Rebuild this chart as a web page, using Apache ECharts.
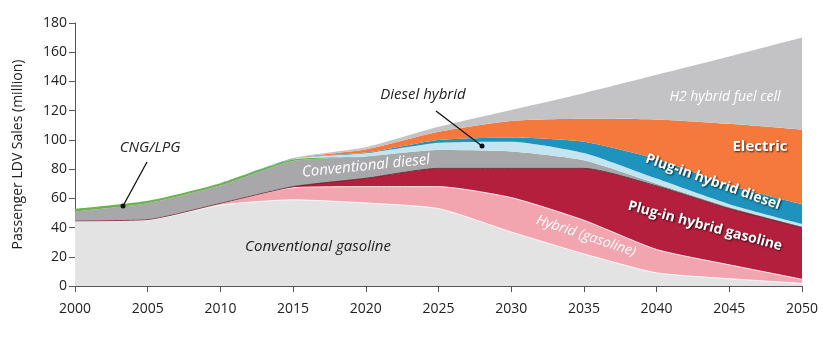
<!DOCTYPE html>
<html>
<head>
<meta charset="utf-8">
<script src="https://cdn.jsdelivr.net/npm/echarts@6/dist/echarts.min.js"></script>
<style>
  html, body { margin: 0; padding: 0; background: #fff; }
  #main { width: 831px; height: 338px; }
</style>
</head>
<body>
<div id="main"></div>
<script>
// years on the x axis
const years = ['2000', '2005', '2010', '2015', '2020', '2025', '2030', '2035', '2040', '2045', '2050'];

// sales per technology, million vehicles (stacked, bottom to top)
const convGasoline = [44.5, 45.2, 55.4, 59, 56.8, 53, 37, 22, 9, 5, 1.8];
const hybridGasoline = [0.1, 0.3, 1.1, 8.3, 11.2, 15, 23.5, 23, 16, 9.5, 2.8];
const phevGasoline = [0, 0, 0.1, 0.7, 5.7, 12.5, 20, 35.5, 43.5, 38.5, 35.4];
const convDiesel = [6.4, 11.1, 12.1, 17.6, 14.8, 12.5, 11.5, 5.5, 1.5, 1, 0.8];
const cngLpg = [1.8, 1.7, 1.7, 1.1, 0.2, 0, 0, 0, 0, 0, 0];
const dieselHybrid = [0, 0, 0, 0.3, 2.1, 5, 6.8, 5, 3.5, 2, 1.7];
const phevDiesel = [0, 0, 0, 0.2, 0.5, 2, 2.9, 7.8, 13.5, 13, 13.5];
const electric = [0, 0, 0, 0.2, 2.2, 5.6, 11.3, 15.7, 27, 42, 51];
const h2FuelCell = [0, 0, 0, 0.2, 1.5, 3.4, 7.5, 17.5, 30.5, 46, 63];

const yTicks = [0, 20, 40, 60, 80, 100, 120, 140, 160, 180];

const font = '"Open Sans", "Noto Sans", sans-serif';

// one stacked area layer
function layer(name, values, color, line) {
  return {
    name: name,
    type: 'line',
    stack: 'total',
    smooth: 0.2,
    symbol: 'none',
    data: values,
    areaStyle: { color: color, opacity: 1 },
    lineStyle: line || { width: 0 },
    emphasis: { disabled: true }
  };
}

const whiteEdge = { color: 'rgba(255,255,255,0.85)', width: 1 };

const myChart = echarts.init(document.getElementById('main'), null, { renderer: 'canvas' });

// white bold labels with dark shadow
function boldLabel(text, x, y, rot, size) {
  return {
    type: 'text', x: x, y: y, rotation: rot, z: 100,
    style: {
      text: text, fill: '#fff', font: 'bold ' + (size || 14) + 'px ' + font,
      align: 'center', verticalAlign: 'middle',
      textShadowColor: 'rgba(0,0,0,0.75)', textShadowBlur: 2, textShadowOffsetX: 1, textShadowOffsetY: 1
    }
  };
}

function italicLabel(text, x, y, rot, color, size) {
  return {
    type: 'text', x: x, y: y, rotation: rot, z: 100,
    style: {
      text: text, fill: color, font: 'italic ' + (size || 14) + 'px ' + font,
      align: 'center', verticalAlign: 'middle'
    }
  };
}

// pointer line ending with a dot
function pointer(x1, y1, x2, y2) {
  return [
    { type: 'line', z: 100, shape: { x1: x1, y1: y1, x2: x2, y2: y2 }, style: { stroke: '#111', lineWidth: 1.3 } },
    { type: 'circle', z: 100, shape: { cx: x2, cy: y2, r: 2.5 }, style: { fill: '#111' } }
  ];
}

const option = {
  animation: false,
  grid: { left: 75, right: 29, top: 23, bottom: 52 },
  xAxis: {
    type: 'category',
    data: years,
    boundaryGap: false,
    axisLine: { lineStyle: { color: '#555', width: 1 } },
    axisTick: { show: true, length: 6, lineStyle: { color: '#555' } },
    axisLabel: { color: '#222', fontSize: 14, fontFamily: font, margin: 16 },
    splitLine: { show: false }
  },
  yAxis: {
    type: 'value',
    min: yTicks[0], max: yTicks[yTicks.length - 1], interval: 20,
    name: 'Passenger LDV Sales (million)',
    nameLocation: 'middle',
    nameGap: 50,
    nameTextStyle: { color: '#222', fontSize: 14, fontFamily: font },
    axisLine: { show: true, lineStyle: { color: '#555', width: 1 } },
    axisTick: { show: true, length: 6, lineStyle: { color: '#555' } },
    axisLabel: { color: '#222', fontSize: 14, fontFamily: font, margin: 8 },
    splitLine: { show: false }
  },
  series: [
    layer('Conventional gasoline', convGasoline, '#e3e3e4', whiteEdge),
    layer('Hybrid (gasoline)', hybridGasoline, '#f2a5ae', whiteEdge),
    layer('Plug-in hybrid gasoline', phevGasoline, '#b41f3e', { color: '#5a0f1c', width: 0.8 }),
    layer('Conventional diesel', convDiesel, '#a8a8aa'),
    layer('CNG/LPG', cngLpg, '#6cb24e'),
    layer('Diesel hybrid', dieselHybrid, '#c4e5f0'),
    layer('Plug-in hybrid diesel', phevDiesel, '#1e93bd'),
    layer('Electric', electric, '#f5793d'),
    layer('H2 hybrid fuel cell', h2FuelCell, '#c3c3c5')
  ],
  graphic: [
    italicLabel('Conventional gasoline', 318, 247, 0, '#222', 15),
    italicLabel('Conventional diesel', 366, 166, 0.1, '#fff', 15),
    italicLabel('Hybrid (gasoline)', 586, 236, -0.32, '#fff', 14),
    italicLabel('H2 hybrid fuel cell', 725, 97, 0, '#fff', 14),
    italicLabel('Diesel hybrid', 423, 95, 0, '#222', 15),
    italicLabel('CNG/LPG', 150, 148, 0, '#222', 15),
    boldLabel('Electric', 760, 147, 0, 15),
    boldLabel('Plug-in hybrid diesel', 713, 182, -0.34, 14),
    boldLabel('Plug-in hybrid gasoline', 705, 226, -0.26, 14)
  ].concat(pointer(436, 111, 482, 146), pointer(147, 162, 123, 206))
};

myChart.setOption(option);
</script>
</body>
</html>
